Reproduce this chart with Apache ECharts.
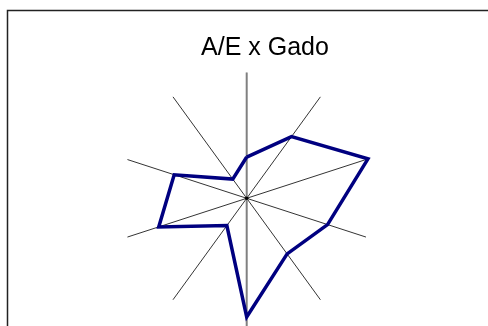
<!DOCTYPE html>
<html>
<head>
<meta charset="utf-8">
<script src="https://cdn.jsdelivr.net/npm/echarts@6/dist/echarts.min.js"></script>
<style>html,body{margin:0;padding:0;background:#fff}#c{width:488px;height:326px}</style>
</head>
<body>
<div id="c"></div>
<script>
var titleText = 'A/E x Gado';
// axes listed clockwise starting at the top
var indicators = ['1','2','3','4','5','6','7','8','9','10'];
var maxValue = 100;
var gadoValues = [33, 61, 102, 68, 55, 95, 27, 74, 61, 19];

// ECharts radar runs counter-clockwise: keep first, reverse the rest
function ccw(arr) { return [arr[0]].concat(arr.slice(1).reverse()); }

var chart = echarts.init(document.getElementById('c'), null, {renderer: 'canvas'});
chart.setOption({
  animation: false,
  backgroundColor: '#fff',
  title: {
    text: titleText, left: 260, top: 31, textAlign: 'center',
    textStyle: {fontFamily: 'Liberation Sans, Arial, sans-serif', fontSize: 25, fontWeight: 'normal', color: '#000'}
  },
  graphic: [
    {type: 'rect', shape: {x: 7.5, y: 10.5, width: 600, height: 400}, style: {fill: null, stroke: '#222', lineWidth: 1.5}, silent: true, z: 0},
    {type: 'line', shape: {x1: 246.7, y1: 72.5, x2: 246.7, y2: 330}, style: {stroke: '#808080', lineWidth: 2}, silent: true, z: 1},
    {type: 'circle', shape: {cx: 246.7, cy: 198.3, r: 1.8}, style: {fill: '#000'}, z: 100}
  ],
  radar: [{
    center: [246.7, 198.3], radius: 125, startAngle: 90, shape: 'polygon',
    indicator: ccw(indicators).map(function (n) { return {name: n, max: maxValue}; }),
    axisName: {show: false},
    axisLine: {lineStyle: {color: '#000', width: 0.8}},
    splitLine: {show: false}, splitArea: {show: false}, axisTick: {show: false}, axisLabel: {show: false},
    splitNumber: 1
  }],
  series: [{
    type: 'radar', radarIndex: 0, symbol: 'none', z: 5,
    lineStyle: {color: '#000080', width: 3.5, join: 'miter'},
    data: [{value: ccw(gadoValues), name: 'Gado'}]
  }]
});
</script>
</body>
</html>
